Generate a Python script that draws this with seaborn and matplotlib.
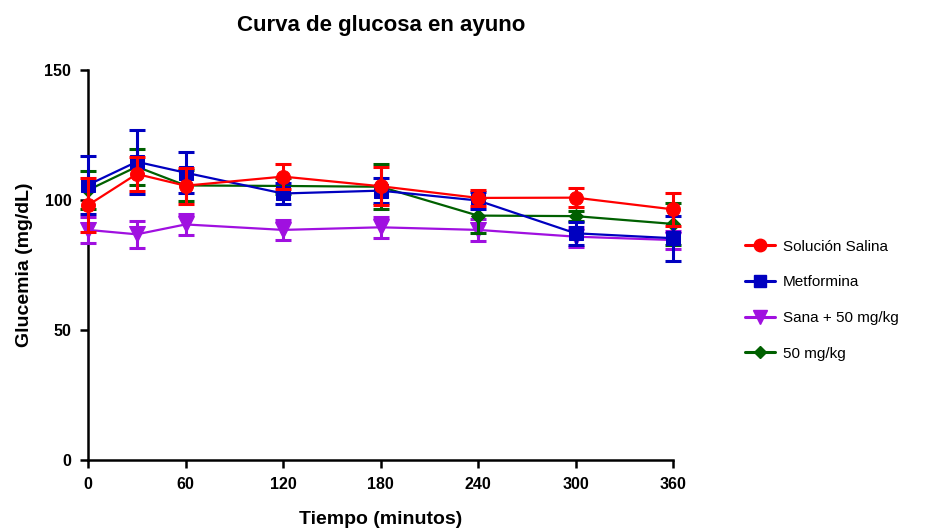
import numpy as np
import pandas as pd
import matplotlib
matplotlib.use("Agg")
import matplotlib.pyplot as plt
import seaborn as sns
from matplotlib.lines import Line2D

times = [0, 30, 60, 120, 180, 240, 300, 360]
series = ["Solución Salina", "Metformina", "Sana + 50 mg/kg", "50 mg/kg"]

salina = [98, 110, 105.5, 109, 105.3, 100.8, 100.9, 96.4]
salina_err = [10.5, 6.7, 6.9, 4.9, 7.4, 3.0, 3.6, 6.4]

metformina = [105.8, 114.7, 110.5, 102.5, 103.6, 99.8, 87.2, 85.3]
metformina_err = [11.0, 12.4, 7.8, 4.2, 4.8, 3.2, 4.5, 8.7]

sana = [88.5, 86.8, 90.6, 88.5, 89.5, 88.5, 85.9, 84.6]
sana_err = [4.9, 5.2, 4.2, 3.8, 4.1, 4.1, 3.8, 3.5]

mg50 = [103.8, 112.8, 105.6, 105.4, 105.1, 94.0, 93.8, 90.8]
mg50_err = [7.3, 7.0, 6.0, 3.0, 8.6, 6.8, 2.0, 8.0]

colors = ["#ff0000", "#0000c0", "#a010e0", "#006000"]
markers = ["o", "s", "v", "D"]
msizes = [10, 10, 11, 7]

sns.set_theme(style="ticks")
plt.rcParams["font.family"] = ["Liberation Sans", "DejaVu Sans"]
plt.rcParams["text.color"] = "black"
plt.rcParams["axes.labelcolor"] = "black"
plt.rcParams["xtick.color"] = "black"
plt.rcParams["ytick.color"] = "black"

df = pd.DataFrame({
    "Tiempo": times * 4,
    "Glucemia": salina + metformina + sana + mg50,
    "Grupo": sum([[s] * len(times) for s in series], []),
})
errs = [salina_err, metformina_err, sana_err, mg50_err]
vals = [salina, metformina, sana, mg50]

fig = plt.figure(figsize=(9.34, 5.29), dpi=100)
ax = fig.add_axes([88 / 934, 69 / 529, (673 - 88) / 934, (460 - 70) / 529])

# draw order: purple, green, blue, red (red on top)
order = [2, 3, 1, 0]
for rank, i in enumerate(order):
    sub = df[df["Grupo"] == series[i]]
    z = 3 + rank
    ax.errorbar(times, vals[i], yerr=errs[i], fmt="none", ecolor=colors[i],
                elinewidth=2.2, capsize=6, capthick=2.2, zorder=z)
    sns.lineplot(data=sub, x="Tiempo", y="Glucemia", ax=ax, color=colors[i],
                 marker=markers[i], markersize=msizes[i], markeredgecolor=colors[i],
                 linewidth=1.6, legend=False, zorder=z)

ax.set_xlim(0, 360)
ax.set_ylim(0, 150)
ax.set_xticks([0, 60, 120, 180, 240, 300, 360])
ax.set_yticks([0, 50, 100, 150])
ax.spines["top"].set_visible(False)
ax.spines["right"].set_visible(False)
for s in ["left", "bottom"]:
    ax.spines[s].set_linewidth(1.8)
    ax.spines[s].set_color("black")
ax.tick_params(axis="both", width=1.8, length=6, color="black",
               labelsize=11.5, pad=6)
for lab in ax.get_xticklabels() + ax.get_yticklabels():
    lab.set_fontweight("bold")
ax.set_xlabel("Tiempo (minutos)", fontsize=14, fontweight="bold", labelpad=14)
ax.set_ylabel("Glucemia (mg/dL)", fontsize=14, fontweight="bold", labelpad=8)
for art in ax.lines + ax.collections:
    art.set_clip_on(False)

fig.text(381 / 934, 1 - 25 / 529, "Curva de glucosa en ayuno", ha="center",
         va="center", fontsize=16, fontweight="bold", color="black")

handles = [Line2D([0], [0], color=colors[i], marker=markers[i], markersize=msizes[i] * 0.9,
                  linewidth=2.2) for i in range(4)]
leg = fig.legend(handles, series, loc="upper left", bbox_to_anchor=(731 / 934, 1 - 226 / 529),
                 frameon=False, fontsize=11, handlelength=2.0, labelspacing=1.42,
                 handletextpad=0.5)

fig.savefig("out.png", dpi=100)
